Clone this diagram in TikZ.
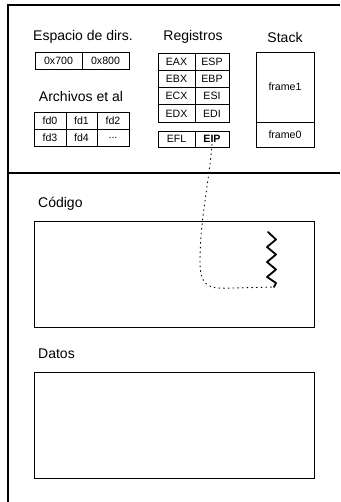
\documentclass[tikz,border=0pt]{standalone}
\usepackage{fontspec}
\setmainfont{Liberation Sans}
\begin{document}
\begin{tikzpicture}[x=1pt,y=-1pt,
  frameline/.style={line width=1.3pt},
  cell/.style={draw, line width=0.8pt, inner sep=0pt, font=\fontsize{10.6}{12}\selectfont},
  title/.style={font=\fontsize{14}{16}\selectfont, inner sep=0pt},
  area/.style={draw, line width=0.8pt},
  trail/.style={line width=0.9pt, dash pattern=on 0.9pt off 3.8pt, line cap=round}]
\useasboundingbox (0,0) rectangle (340,502);
% outer frame
\coordinate (tl) at (8,5);
\coordinate (tr) at (340,5);
\coordinate (bl) at (8,502);
\coordinate (dl) at (8,173);
\coordinate (dr) at (340,173);
\draw[frameline] (tr) -- (tl) -- (bl);
\draw[frameline] (dl) -- (dr);
% titles
\node[title] (tesp) at (83,37) {Espacio de dirs.};
\node[title] (tarch) at (81,96) {Archivos et al};
\node[title] (treg) at (193,37) {Registros};
\node[title] (tstack) at (285,37) {Stack};
% address space
\node[cell, minimum width=47pt, minimum height=17pt] (a700) at (58.5,60.5) {0x700};
\node[cell, minimum width=47pt, minimum height=17pt] (a800) at (105.5,60.5) {0x800};
% files
\node[cell, minimum width=32pt, minimum height=17pt] (fd0) at (50,120.5) {fd0};
\node[cell, minimum width=31pt, minimum height=17pt] (fd1) at (81.5,120.5) {fd1};
\node[cell, minimum width=32pt, minimum height=17pt] (fd2) at (113,120.5) {fd2};
\node[cell, minimum width=32pt, minimum height=17pt] (fd3) at (50,137.5) {fd3};
\node[cell, minimum width=31pt, minimum height=17pt] (fd4) at (81.5,137.5) {fd4};
\node[cell, minimum width=32pt, minimum height=17pt] (fdx) at (113,137.5) {...};
% registers
\node[cell, minimum width=37pt, minimum height=17.25pt] (eax) at (176.5,61.6) {EAX};
\node[cell, minimum width=34pt, minimum height=17.25pt] (esp) at (212,61.6) {ESP};
\node[cell, minimum width=37pt, minimum height=17.25pt] (ebx) at (176.5,78.9) {EBX};
\node[cell, minimum width=34pt, minimum height=17.25pt] (ebp) at (212,78.9) {EBP};
\node[cell, minimum width=37pt, minimum height=17.25pt] (ecx) at (176.5,96.1) {ECX};
\node[cell, minimum width=34pt, minimum height=17.25pt] (esi) at (212,96.1) {ESI};
\node[cell, minimum width=37pt, minimum height=17.25pt] (edx) at (176.5,113.4) {EDX};
\node[cell, minimum width=34pt, minimum height=17.25pt] (edi) at (212,113.4) {EDI};
\node[cell, minimum width=37pt, minimum height=16pt] (efl) at (176.5,139) {EFL};
\node[cell, minimum width=34pt, minimum height=16pt] (eip) at (212,139) {\textbf{EIP}};
% stack
\node[cell, minimum width=58pt, minimum height=70pt] (frame1) at (285,87) {frame1};
\node[cell, minimum width=58pt, minimum height=25pt] (frame0) at (285,134.5) {frame0};
% code
\node[title, anchor=west] (tcode) at (38,204) {Código};
\node[area, minimum width=280pt, minimum height=106pt, inner sep=0pt] (code) at (174,274) {};
% data
\node[title, anchor=west] (tdata) at (38,354) {Datos};
\node[area, minimum width=280pt, minimum height=106pt, inner sep=0pt] (data) at (174,425) {};
% zigzag
\coordinate (ztop) at (268,232);
\coordinate (zend) at (274,287);
\draw[line width=1.8pt, line join=round, line cap=round]
  (ztop) -- (276,239.5) -- (267,247) -- (276,254.5) -- (267,262) -- (276,269.5) -- (267,277) -- (276,283) -- (zend);
% dotted pointer
\draw[trail] ([yshift=3pt]eip.south) .. controls (208,190) and (200,220) .. (200,262)
  .. controls (200,292) and (215,288) .. (235,288) -- (zend);
\end{tikzpicture}
\end{document}
